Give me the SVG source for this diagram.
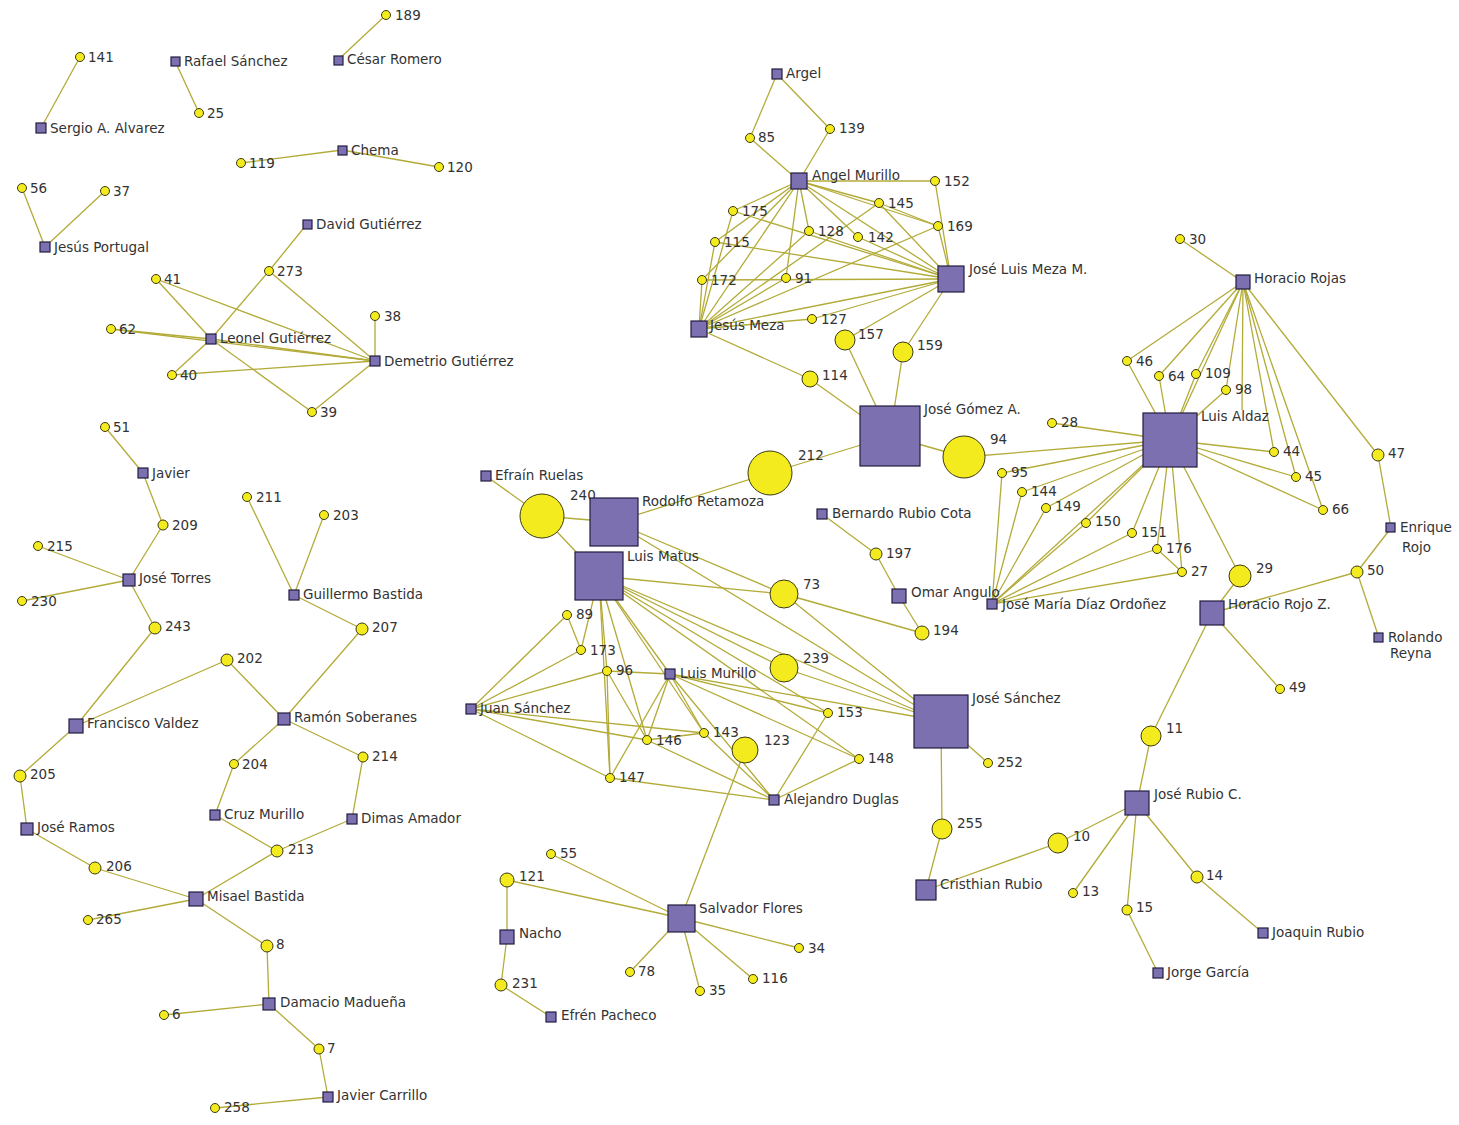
<svg xmlns="http://www.w3.org/2000/svg" width="1459" height="1125" viewBox="0 0 1459 1125">
<style>
.e line{stroke:#b3ab38;stroke-width:1.3;fill:none}
.sq{fill:#7c70b0;stroke:#221c40;stroke-width:1.2}
.ci{fill:#f3eb1e;stroke:#3c3a12;stroke-width:1}
.t{font-family:"DejaVu Sans","Liberation Sans",sans-serif;font-size:13.5px;fill:#333333}
</style>
<rect width="1459" height="1125" fill="#ffffff"/>
<g id="connectors" class="e">
<line x1="386" y1="15" x2="338" y2="60"/>
<line x1="80" y1="57" x2="41" y2="128"/>
<line x1="175" y1="61" x2="199" y2="113"/>
<line x1="241" y1="163" x2="342" y2="150"/>
<line x1="342" y1="150" x2="439" y2="167"/>
<line x1="22" y1="188" x2="45" y2="247"/>
<line x1="105" y1="191" x2="45" y2="247"/>
<line x1="307" y1="224" x2="269" y2="271"/>
<line x1="269" y1="271" x2="211" y2="339"/>
<line x1="269" y1="271" x2="375" y2="361"/>
<line x1="156" y1="279" x2="211" y2="339"/>
<line x1="156" y1="279" x2="375" y2="361"/>
<line x1="111" y1="329" x2="211" y2="339"/>
<line x1="111" y1="329" x2="375" y2="361"/>
<line x1="211" y1="339" x2="375" y2="361"/>
<line x1="375" y1="316" x2="375" y2="361"/>
<line x1="172" y1="375" x2="211" y2="339"/>
<line x1="172" y1="375" x2="375" y2="361"/>
<line x1="312" y1="412" x2="211" y2="339"/>
<line x1="312" y1="412" x2="375" y2="361"/>
<line x1="105" y1="427" x2="143" y2="473"/>
<line x1="143" y1="473" x2="163" y2="525"/>
<line x1="163" y1="525" x2="129" y2="580"/>
<line x1="38" y1="546" x2="129" y2="580"/>
<line x1="22" y1="601" x2="129" y2="580"/>
<line x1="129" y1="580" x2="155" y2="628"/>
<line x1="155" y1="628" x2="76" y2="726"/>
<line x1="76" y1="726" x2="227" y2="660"/>
<line x1="227" y1="660" x2="284" y2="719"/>
<line x1="247" y1="497" x2="294" y2="595"/>
<line x1="324" y1="515" x2="294" y2="595"/>
<line x1="294" y1="595" x2="362" y2="629"/>
<line x1="362" y1="629" x2="284" y2="719"/>
<line x1="284" y1="719" x2="234" y2="764"/>
<line x1="284" y1="719" x2="363" y2="757"/>
<line x1="234" y1="764" x2="215" y2="815"/>
<line x1="363" y1="757" x2="352" y2="819"/>
<line x1="215" y1="815" x2="277" y2="851"/>
<line x1="352" y1="819" x2="277" y2="851"/>
<line x1="277" y1="851" x2="196" y2="899"/>
<line x1="76" y1="726" x2="20" y2="776"/>
<line x1="20" y1="776" x2="27" y2="829"/>
<line x1="27" y1="829" x2="95" y2="868"/>
<line x1="95" y1="868" x2="196" y2="899"/>
<line x1="88" y1="920" x2="196" y2="899"/>
<line x1="196" y1="899" x2="267" y2="946"/>
<line x1="267" y1="946" x2="269" y2="1004"/>
<line x1="164" y1="1015" x2="269" y2="1004"/>
<line x1="269" y1="1004" x2="319" y2="1049"/>
<line x1="319" y1="1049" x2="328" y2="1097"/>
<line x1="215" y1="1108" x2="328" y2="1097"/>
<line x1="777" y1="74" x2="750" y2="138"/>
<line x1="777" y1="74" x2="830" y2="129"/>
<line x1="750" y1="138" x2="799" y2="181"/>
<line x1="830" y1="129" x2="799" y2="181"/>
<line x1="799" y1="181" x2="935" y2="181"/>
<line x1="935" y1="181" x2="951" y2="279"/>
<line x1="799" y1="181" x2="879" y2="203"/>
<line x1="799" y1="181" x2="938" y2="226"/>
<line x1="799" y1="181" x2="809" y2="231"/>
<line x1="799" y1="181" x2="858" y2="237"/>
<line x1="799" y1="181" x2="786" y2="278"/>
<line x1="799" y1="181" x2="733" y2="211"/>
<line x1="799" y1="181" x2="715" y2="242"/>
<line x1="799" y1="181" x2="702" y2="280"/>
<line x1="799" y1="181" x2="699" y2="329"/>
<line x1="799" y1="181" x2="951" y2="279"/>
<line x1="879" y1="203" x2="951" y2="279"/>
<line x1="879" y1="203" x2="938" y2="226"/>
<line x1="879" y1="203" x2="699" y2="329"/>
<line x1="938" y1="226" x2="951" y2="279"/>
<line x1="938" y1="226" x2="699" y2="329"/>
<line x1="809" y1="231" x2="951" y2="279"/>
<line x1="858" y1="237" x2="951" y2="279"/>
<line x1="733" y1="211" x2="951" y2="279"/>
<line x1="733" y1="211" x2="699" y2="329"/>
<line x1="715" y1="242" x2="951" y2="279"/>
<line x1="715" y1="242" x2="699" y2="329"/>
<line x1="702" y1="280" x2="699" y2="329"/>
<line x1="702" y1="280" x2="951" y2="279"/>
<line x1="786" y1="278" x2="699" y2="329"/>
<line x1="809" y1="231" x2="699" y2="329"/>
<line x1="812" y1="319" x2="699" y2="329"/>
<line x1="812" y1="319" x2="951" y2="279"/>
<line x1="699" y1="329" x2="951" y2="279"/>
<line x1="845" y1="340" x2="951" y2="279"/>
<line x1="845" y1="340" x2="890" y2="436"/>
<line x1="903" y1="352" x2="951" y2="279"/>
<line x1="903" y1="352" x2="890" y2="436"/>
<line x1="699" y1="329" x2="810" y2="379"/>
<line x1="810" y1="379" x2="890" y2="436"/>
<line x1="770" y1="473" x2="890" y2="436"/>
<line x1="964" y1="457" x2="890" y2="436"/>
<line x1="770" y1="473" x2="614" y2="522"/>
<line x1="964" y1="457" x2="1170" y2="440"/>
<line x1="486" y1="476" x2="542" y2="516"/>
<line x1="542" y1="516" x2="614" y2="522"/>
<line x1="542" y1="516" x2="599" y2="576"/>
<line x1="614" y1="522" x2="784" y2="594"/>
<line x1="599" y1="576" x2="784" y2="594"/>
<line x1="614" y1="522" x2="941" y2="721"/>
<line x1="599" y1="576" x2="941" y2="721"/>
<line x1="599" y1="576" x2="784" y2="668"/>
<line x1="599" y1="576" x2="828" y2="713"/>
<line x1="599" y1="576" x2="859" y2="759"/>
<line x1="599" y1="576" x2="670" y2="674"/>
<line x1="599" y1="576" x2="704" y2="733"/>
<line x1="599" y1="576" x2="647" y2="740"/>
<line x1="599" y1="576" x2="607" y2="671"/>
<line x1="599" y1="576" x2="581" y2="650"/>
<line x1="599" y1="576" x2="610" y2="778"/>
<line x1="784" y1="594" x2="941" y2="721"/>
<line x1="784" y1="594" x2="922" y2="633"/>
<line x1="784" y1="668" x2="941" y2="721"/>
<line x1="670" y1="674" x2="941" y2="721"/>
<line x1="670" y1="674" x2="828" y2="713"/>
<line x1="670" y1="674" x2="859" y2="759"/>
<line x1="670" y1="674" x2="704" y2="733"/>
<line x1="670" y1="674" x2="647" y2="740"/>
<line x1="670" y1="674" x2="610" y2="778"/>
<line x1="670" y1="674" x2="607" y2="671"/>
<line x1="670" y1="674" x2="774" y2="800"/>
<line x1="471" y1="709" x2="567" y2="615"/>
<line x1="471" y1="709" x2="581" y2="650"/>
<line x1="471" y1="709" x2="607" y2="671"/>
<line x1="471" y1="709" x2="647" y2="740"/>
<line x1="471" y1="709" x2="704" y2="733"/>
<line x1="471" y1="709" x2="610" y2="778"/>
<line x1="567" y1="615" x2="581" y2="650"/>
<line x1="607" y1="671" x2="647" y2="740"/>
<line x1="607" y1="671" x2="610" y2="778"/>
<line x1="610" y1="778" x2="774" y2="800"/>
<line x1="647" y1="740" x2="774" y2="800"/>
<line x1="704" y1="733" x2="774" y2="800"/>
<line x1="828" y1="713" x2="774" y2="800"/>
<line x1="859" y1="759" x2="774" y2="800"/>
<line x1="704" y1="733" x2="647" y2="740"/>
<line x1="745" y1="750" x2="681" y2="918"/>
<line x1="941" y1="721" x2="988" y2="763"/>
<line x1="941" y1="721" x2="942" y2="829"/>
<line x1="942" y1="829" x2="926" y2="890"/>
<line x1="926" y1="890" x2="1058" y2="843"/>
<line x1="1058" y1="843" x2="1137" y2="803"/>
<line x1="551" y1="854" x2="681" y2="918"/>
<line x1="507" y1="880" x2="681" y2="918"/>
<line x1="507" y1="880" x2="507" y2="937"/>
<line x1="507" y1="937" x2="501" y2="985"/>
<line x1="501" y1="985" x2="551" y2="1017"/>
<line x1="681" y1="918" x2="630" y2="972"/>
<line x1="681" y1="918" x2="700" y2="991"/>
<line x1="681" y1="918" x2="753" y2="979"/>
<line x1="681" y1="918" x2="799" y2="948"/>
<line x1="822" y1="514" x2="876" y2="554"/>
<line x1="876" y1="554" x2="899" y2="596"/>
<line x1="899" y1="596" x2="922" y2="633"/>
<line x1="1180" y1="239" x2="1243" y2="282"/>
<line x1="1243" y1="282" x2="1127" y2="361"/>
<line x1="1243" y1="282" x2="1159" y2="376"/>
<line x1="1243" y1="282" x2="1196" y2="374"/>
<line x1="1243" y1="282" x2="1226" y2="390"/>
<line x1="1243" y1="282" x2="1170" y2="440"/>
<line x1="1243" y1="282" x2="1242" y2="410"/>
<line x1="1243" y1="282" x2="1274" y2="452"/>
<line x1="1243" y1="282" x2="1296" y2="477"/>
<line x1="1243" y1="282" x2="1323" y2="510"/>
<line x1="1243" y1="282" x2="1378" y2="455"/>
<line x1="1127" y1="361" x2="1170" y2="440"/>
<line x1="1159" y1="376" x2="1170" y2="440"/>
<line x1="1196" y1="374" x2="1170" y2="440"/>
<line x1="1226" y1="390" x2="1170" y2="440"/>
<line x1="1052" y1="423" x2="1170" y2="440"/>
<line x1="1002" y1="473" x2="1170" y2="440"/>
<line x1="1022" y1="492" x2="1170" y2="440"/>
<line x1="1046" y1="508" x2="1170" y2="440"/>
<line x1="1086" y1="523" x2="1170" y2="440"/>
<line x1="1132" y1="533" x2="1170" y2="440"/>
<line x1="1157" y1="549" x2="1170" y2="440"/>
<line x1="1182" y1="572" x2="1170" y2="440"/>
<line x1="1240" y1="576" x2="1170" y2="440"/>
<line x1="1274" y1="452" x2="1170" y2="440"/>
<line x1="1296" y1="477" x2="1170" y2="440"/>
<line x1="1323" y1="510" x2="1170" y2="440"/>
<line x1="992" y1="604" x2="1170" y2="440"/>
<line x1="992" y1="604" x2="1002" y2="473"/>
<line x1="992" y1="604" x2="1022" y2="492"/>
<line x1="992" y1="604" x2="1046" y2="508"/>
<line x1="992" y1="604" x2="1086" y2="523"/>
<line x1="992" y1="604" x2="1132" y2="533"/>
<line x1="992" y1="604" x2="1157" y2="549"/>
<line x1="992" y1="604" x2="1182" y2="572"/>
<line x1="1157" y1="549" x2="1182" y2="572"/>
<line x1="1240" y1="576" x2="1212" y2="613"/>
<line x1="1212" y1="613" x2="1357" y2="572"/>
<line x1="1212" y1="613" x2="1151" y2="736"/>
<line x1="1212" y1="613" x2="1280" y2="689"/>
<line x1="1357" y1="572" x2="1391" y2="528"/>
<line x1="1357" y1="572" x2="1379" y2="638"/>
<line x1="1378" y1="455" x2="1391" y2="528"/>
<line x1="1151" y1="736" x2="1137" y2="803"/>
<line x1="1137" y1="803" x2="1073" y2="893"/>
<line x1="1137" y1="803" x2="1127" y2="910"/>
<line x1="1137" y1="803" x2="1197" y2="877"/>
<line x1="1197" y1="877" x2="1263" y2="933"/>
<line x1="1127" y1="910" x2="1158" y2="973"/>
</g>
<g id="n189"><circle class="ci" cx="386" cy="15" r="4.5"/><text class="t" x="395" y="20">189</text></g>
<g id="cesar-romero"><rect class="sq" x="334" y="56" width="9" height="9"/><text class="t" x="347" y="64">César Romero</text></g>
<g id="n141"><circle class="ci" cx="80" cy="57" r="4.5"/><text class="t" x="88" y="62">141</text></g>
<g id="sergio"><rect class="sq" x="36" y="123" width="10" height="10"/><text class="t" x="50" y="133">Sergio A. Alvarez</text></g>
<g id="rafael"><rect class="sq" x="171" y="57" width="9" height="9"/><text class="t" x="184" y="66">Rafael Sánchez</text></g>
<g id="n25"><circle class="ci" cx="199" cy="113" r="4.5"/><text class="t" x="207" y="118">25</text></g>
<g id="chema"><rect class="sq" x="338" y="146" width="9" height="9"/><text class="t" x="351" y="155">Chema</text></g>
<g id="n119"><circle class="ci" cx="241" cy="163" r="4.5"/><text class="t" x="249" y="168">119</text></g>
<g id="n120"><circle class="ci" cx="439" cy="167" r="4.5"/><text class="t" x="447" y="172">120</text></g>
<g id="n56"><circle class="ci" cx="22" cy="188" r="4.5"/><text class="t" x="30" y="193">56</text></g>
<g id="n37"><circle class="ci" cx="105" cy="191" r="4.5"/><text class="t" x="113" y="196">37</text></g>
<g id="jesus-portugal"><rect class="sq" x="40" y="242" width="10" height="10"/><text class="t" x="54" y="252">Jesús Portugal</text></g>
<g id="david"><rect class="sq" x="303" y="220" width="9" height="9"/><text class="t" x="316" y="229">David Gutiérrez</text></g>
<g id="n273"><circle class="ci" cx="269" cy="271" r="4.5"/><text class="t" x="277" y="276">273</text></g>
<g id="n41"><circle class="ci" cx="156" cy="279" r="4.5"/><text class="t" x="164" y="284">41</text></g>
<g id="n62"><circle class="ci" cx="111" cy="329" r="4.5"/><text class="t" x="119" y="334">62</text></g>
<g id="leonel"><rect class="sq" x="206" y="334" width="10" height="10"/><text class="t" x="220" y="343">Leonel Gutiérrez</text></g>
<g id="n38"><circle class="ci" cx="375" cy="316" r="4.5"/><text class="t" x="384" y="321">38</text></g>
<g id="demetrio"><rect class="sq" x="370" y="356" width="10" height="10"/><text class="t" x="384" y="366">Demetrio Gutiérrez</text></g>
<g id="n40"><circle class="ci" cx="172" cy="375" r="4.5"/><text class="t" x="180" y="380">40</text></g>
<g id="n39"><circle class="ci" cx="312" cy="412" r="4.5"/><text class="t" x="320" y="417">39</text></g>
<g id="n51"><circle class="ci" cx="105" cy="427" r="4.5"/><text class="t" x="113" y="432">51</text></g>
<g id="javier"><rect class="sq" x="138" y="468" width="10" height="10"/><text class="t" x="152" y="478">Javier</text></g>
<g id="n209"><circle class="ci" cx="163" cy="525" r="5"/><text class="t" x="172" y="530">209</text></g>
<g id="n215"><circle class="ci" cx="38" cy="546" r="4.5"/><text class="t" x="47" y="551">215</text></g>
<g id="jose-torres"><rect class="sq" x="123" y="574" width="12" height="12"/><text class="t" x="139" y="583">José Torres</text></g>
<g id="n230"><circle class="ci" cx="22" cy="601" r="4.5"/><text class="t" x="31" y="606">230</text></g>
<g id="n243"><circle class="ci" cx="155" cy="628" r="6"/><text class="t" x="165" y="631">243</text></g>
<g id="n211"><circle class="ci" cx="247" cy="497" r="4.5"/><text class="t" x="256" y="502">211</text></g>
<g id="n203"><circle class="ci" cx="324" cy="515" r="4.5"/><text class="t" x="333" y="520">203</text></g>
<g id="guillermo"><rect class="sq" x="289" y="590" width="10" height="10"/><text class="t" x="303" y="599">Guillermo Bastida</text></g>
<g id="n207"><circle class="ci" cx="362" cy="629" r="6"/><text class="t" x="372" y="632">207</text></g>
<g id="n202"><circle class="ci" cx="227" cy="660" r="6"/><text class="t" x="237" y="663">202</text></g>
<g id="francisco"><rect class="sq" x="69" y="719" width="14" height="14"/><text class="t" x="87" y="728">Francisco Valdez</text></g>
<g id="ramon"><rect class="sq" x="278" y="713" width="12" height="12"/><text class="t" x="294" y="722">Ramón Soberanes</text></g>
<g id="n204"><circle class="ci" cx="234" cy="764" r="4.5"/><text class="t" x="242" y="769">204</text></g>
<g id="n214"><circle class="ci" cx="363" cy="757" r="5"/><text class="t" x="372" y="761">214</text></g>
<g id="n205"><circle class="ci" cx="20" cy="776" r="6"/><text class="t" x="30" y="779">205</text></g>
<g id="cruz"><rect class="sq" x="210" y="810" width="10" height="10"/><text class="t" x="224" y="819">Cruz Murillo</text></g>
<g id="dimas"><rect class="sq" x="347" y="814" width="10" height="10"/><text class="t" x="361" y="823">Dimas Amador</text></g>
<g id="jose-ramos"><rect class="sq" x="21" y="823" width="12" height="12"/><text class="t" x="37" y="832">José Ramos</text></g>
<g id="n213"><circle class="ci" cx="277" cy="851" r="6"/><text class="t" x="288" y="854">213</text></g>
<g id="n206"><circle class="ci" cx="95" cy="868" r="6"/><text class="t" x="106" y="871">206</text></g>
<g id="misael"><rect class="sq" x="189" y="892" width="14" height="14"/><text class="t" x="207" y="901">Misael Bastida</text></g>
<g id="n265"><circle class="ci" cx="88" cy="920" r="4.5"/><text class="t" x="96" y="924">265</text></g>
<g id="n8"><circle class="ci" cx="267" cy="946" r="6"/><text class="t" x="276" y="949">8</text></g>
<g id="damacio"><rect class="sq" x="263" y="998" width="12" height="12"/><text class="t" x="280" y="1007">Damacio Madueña</text></g>
<g id="n6"><circle class="ci" cx="164" cy="1015" r="4.5"/><text class="t" x="172" y="1019">6</text></g>
<g id="n7"><circle class="ci" cx="319" cy="1049" r="5"/><text class="t" x="327" y="1053">7</text></g>
<g id="javier-carrillo"><rect class="sq" x="323" y="1092" width="10" height="10"/><text class="t" x="337" y="1100">Javier Carrillo</text></g>
<g id="n258"><circle class="ci" cx="215" cy="1108" r="4.5"/><text class="t" x="224" y="1112">258</text></g>
<g id="argel"><rect class="sq" x="772" y="69" width="10" height="10"/><text class="t" x="786" y="78">Argel</text></g>
<g id="n85"><circle class="ci" cx="750" cy="138" r="4.5"/><text class="t" x="758" y="142">85</text></g>
<g id="n139"><circle class="ci" cx="830" cy="129" r="4.5"/><text class="t" x="839" y="133">139</text></g>
<g id="angel-murillo"><rect class="sq" x="791" y="173" width="16" height="16"/><text class="t" x="812" y="180">Angel Murillo</text></g>
<g id="n152"><circle class="ci" cx="935" cy="181" r="4.5"/><text class="t" x="944" y="186">152</text></g>
<g id="n175"><circle class="ci" cx="733" cy="211" r="4.5"/><text class="t" x="742" y="216">175</text></g>
<g id="n145"><circle class="ci" cx="879" cy="203" r="4.5"/><text class="t" x="888" y="208">145</text></g>
<g id="n128"><circle class="ci" cx="809" cy="231" r="4.5"/><text class="t" x="818" y="236">128</text></g>
<g id="n142"><circle class="ci" cx="858" cy="237" r="4.5"/><text class="t" x="868" y="242">142</text></g>
<g id="n169"><circle class="ci" cx="938" cy="226" r="4.5"/><text class="t" x="947" y="231">169</text></g>
<g id="n115"><circle class="ci" cx="715" cy="242" r="4.5"/><text class="t" x="724" y="247">115</text></g>
<g id="jose-luis-meza"><rect class="sq" x="938" y="266" width="26" height="26"/><text class="t" x="969" y="274">José Luis Meza M.</text></g>
<g id="n172"><circle class="ci" cx="702" cy="280" r="4.5"/><text class="t" x="711" y="285">172</text></g>
<g id="n91"><circle class="ci" cx="786" cy="278" r="4.5"/><text class="t" x="795" y="283">91</text></g>
<g id="jesus-meza"><rect class="sq" x="691" y="321" width="16" height="16"/><text class="t" x="710" y="330">Jesús Meza</text></g>
<g id="n127"><circle class="ci" cx="812" cy="319" r="4.5"/><text class="t" x="821" y="324">127</text></g>
<g id="n157"><circle class="ci" cx="845" cy="340" r="10"/><text class="t" x="858" y="339">157</text></g>
<g id="n159"><circle class="ci" cx="903" cy="352" r="10"/><text class="t" x="917" y="350">159</text></g>
<g id="n114"><circle class="ci" cx="810" cy="379" r="8"/><text class="t" x="822" y="380">114</text></g>
<g id="jose-gomez"><rect class="sq" x="860" y="406" width="60" height="60"/><text class="t" x="924" y="414">José Gómez A.</text></g>
<g id="n94"><circle class="ci" cx="964" cy="457" r="21"/><text class="t" x="990" y="444">94</text></g>
<g id="n212"><circle class="ci" cx="770" cy="473" r="22"/><text class="t" x="798" y="460">212</text></g>
<g id="efrain"><rect class="sq" x="481" y="471" width="10" height="10"/><text class="t" x="495" y="480">Efraín Ruelas</text></g>
<g id="n240"><circle class="ci" cx="542" cy="516" r="22"/><text class="t" x="570" y="500">240</text></g>
<g id="rodolfo"><rect class="sq" x="590" y="498" width="48" height="48"/><text class="t" x="642" y="506">Rodolfo Retamoza</text></g>
<g id="luis-matus"><rect class="sq" x="575" y="552" width="48" height="48"/><text class="t" x="627" y="561">Luis Matus</text></g>
<g id="n73"><circle class="ci" cx="784" cy="594" r="14"/><text class="t" x="803" y="589">73</text></g>
<g id="n89"><circle class="ci" cx="567" cy="615" r="4.5"/><text class="t" x="576" y="619">89</text></g>
<g id="n173"><circle class="ci" cx="581" cy="650" r="4.5"/><text class="t" x="590" y="655">173</text></g>
<g id="n96"><circle class="ci" cx="607" cy="671" r="4.5"/><text class="t" x="616" y="675">96</text></g>
<g id="luis-murillo"><rect class="sq" x="665" y="669" width="10" height="10"/><text class="t" x="680" y="678">Luis Murillo</text></g>
<g id="n239"><circle class="ci" cx="784" cy="668" r="14"/><text class="t" x="803" y="663">239</text></g>
<g id="juan-sanchez"><rect class="sq" x="466" y="704" width="10" height="10"/><text class="t" x="480" y="713">Juan Sánchez</text></g>
<g id="n153"><circle class="ci" cx="828" cy="713" r="4.5"/><text class="t" x="837" y="717">153</text></g>
<g id="n146"><circle class="ci" cx="647" cy="740" r="4.5"/><text class="t" x="656" y="745">146</text></g>
<g id="n143"><circle class="ci" cx="704" cy="733" r="4.5"/><text class="t" x="713" y="737">143</text></g>
<g id="n123"><circle class="ci" cx="745" cy="750" r="13"/><text class="t" x="764" y="745">123</text></g>
<g id="n148"><circle class="ci" cx="859" cy="759" r="4.5"/><text class="t" x="868" y="763">148</text></g>
<g id="n147"><circle class="ci" cx="610" cy="778" r="4.5"/><text class="t" x="619" y="782">147</text></g>
<g id="alejandro"><rect class="sq" x="769" y="795" width="10" height="10"/><text class="t" x="784" y="804">Alejandro Duglas</text></g>
<g id="jose-sanchez"><rect class="sq" x="914" y="695" width="54" height="53"/><text class="t" x="972" y="703">José Sánchez</text></g>
<g id="n252"><circle class="ci" cx="988" cy="763" r="4.5"/><text class="t" x="997" y="767">252</text></g>
<g id="n255"><circle class="ci" cx="942" cy="829" r="10"/><text class="t" x="957" y="828">255</text></g>
<g id="cristhian"><rect class="sq" x="916" y="880" width="20" height="20"/><text class="t" x="940" y="889">Cristhian Rubio</text></g>
<g id="n55"><circle class="ci" cx="551" cy="854" r="4.5"/><text class="t" x="560" y="858">55</text></g>
<g id="n121"><circle class="ci" cx="507" cy="880" r="7"/><text class="t" x="519" y="881">121</text></g>
<g id="nacho"><rect class="sq" x="500" y="930" width="14" height="14"/><text class="t" x="519" y="938">Nacho</text></g>
<g id="n231"><circle class="ci" cx="501" cy="985" r="6"/><text class="t" x="512" y="988">231</text></g>
<g id="efren"><rect class="sq" x="546" y="1012" width="10" height="10"/><text class="t" x="561" y="1020">Efrén Pacheco</text></g>
<g id="salvador"><rect class="sq" x="668" y="905" width="27" height="27"/><text class="t" x="699" y="913">Salvador Flores</text></g>
<g id="n78"><circle class="ci" cx="630" cy="972" r="4.5"/><text class="t" x="638" y="976">78</text></g>
<g id="n35"><circle class="ci" cx="700" cy="991" r="4.5"/><text class="t" x="709" y="995">35</text></g>
<g id="n116"><circle class="ci" cx="753" cy="979" r="4.5"/><text class="t" x="762" y="983">116</text></g>
<g id="n34"><circle class="ci" cx="799" cy="948" r="4.5"/><text class="t" x="808" y="953">34</text></g>
<g id="bernardo"><rect class="sq" x="817" y="509" width="10" height="10"/><text class="t" x="832" y="518">Bernardo Rubio Cota</text></g>
<g id="n197"><circle class="ci" cx="876" cy="554" r="6"/><text class="t" x="886" y="558">197</text></g>
<g id="omar"><rect class="sq" x="892" y="589" width="14" height="14"/><text class="t" x="911" y="597">Omar Angulo</text></g>
<g id="n194"><circle class="ci" cx="922" cy="633" r="7"/><text class="t" x="933" y="635">194</text></g>
<g id="jose-maria"><rect class="sq" x="987" y="599" width="10" height="10"/><text class="t" x="1002" y="609">José María Díaz Ordoñez</text></g>
<g id="n30"><circle class="ci" cx="1180" cy="239" r="4.5"/><text class="t" x="1189" y="244">30</text></g>
<g id="horacio-rojas"><rect class="sq" x="1236" y="275" width="14" height="14"/><text class="t" x="1254" y="283">Horacio Rojas</text></g>
<g id="n46"><circle class="ci" cx="1127" cy="361" r="4.5"/><text class="t" x="1136" y="366">46</text></g>
<g id="n64"><circle class="ci" cx="1159" cy="376" r="4.5"/><text class="t" x="1168" y="381">64</text></g>
<g id="n109"><circle class="ci" cx="1196" cy="374" r="4.5"/><text class="t" x="1205" y="378">109</text></g>
<g id="n98"><circle class="ci" cx="1226" cy="390" r="4.5"/><text class="t" x="1235" y="394">98</text></g>
<g id="luis-aldaz"><rect class="sq" x="1143" y="413" width="54" height="54"/><text class="t" x="1201" y="421">Luis Aldaz</text></g>
<g id="n28"><circle class="ci" cx="1052" cy="423" r="4.5"/><text class="t" x="1061" y="427">28</text></g>
<g id="n44"><circle class="ci" cx="1274" cy="452" r="4.5"/><text class="t" x="1283" y="456">44</text></g>
<g id="n45"><circle class="ci" cx="1296" cy="477" r="4.5"/><text class="t" x="1305" y="481">45</text></g>
<g id="n66"><circle class="ci" cx="1323" cy="510" r="4.5"/><text class="t" x="1332" y="514">66</text></g>
<g id="n47"><circle class="ci" cx="1378" cy="455" r="6"/><text class="t" x="1388" y="458">47</text></g>
<g id="enrique"><rect class="sq" x="1386" y="523" width="9" height="9"/><text class="t" x="1400" y="532">Enrique</text><text class="t" x="1402" y="552">Rojo</text></g>
<g id="n50"><circle class="ci" cx="1357" cy="572" r="6"/><text class="t" x="1367" y="575">50</text></g>
<g id="rolando"><rect class="sq" x="1374" y="633" width="9" height="9"/><text class="t" x="1388" y="642">Rolando</text><text class="t" x="1390" y="658">Reyna</text></g>
<g id="n95"><circle class="ci" cx="1002" cy="473" r="4.5"/><text class="t" x="1011" y="477">95</text></g>
<g id="n144"><circle class="ci" cx="1022" cy="492" r="4.5"/><text class="t" x="1031" y="496">144</text></g>
<g id="n149"><circle class="ci" cx="1046" cy="508" r="4.5"/><text class="t" x="1055" y="511">149</text></g>
<g id="n150"><circle class="ci" cx="1086" cy="523" r="4.5"/><text class="t" x="1095" y="526">150</text></g>
<g id="n151"><circle class="ci" cx="1132" cy="533" r="4.5"/><text class="t" x="1141" y="537">151</text></g>
<g id="n176"><circle class="ci" cx="1157" cy="549" r="4.5"/><text class="t" x="1166" y="553">176</text></g>
<g id="n27"><circle class="ci" cx="1182" cy="572" r="4.5"/><text class="t" x="1191" y="576">27</text></g>
<g id="n29"><circle class="ci" cx="1240" cy="576" r="11"/><text class="t" x="1256" y="573">29</text></g>
<g id="horacio-rojo"><rect class="sq" x="1200" y="601" width="24" height="24"/><text class="t" x="1228" y="609">Horacio Rojo Z.</text></g>
<g id="n49"><circle class="ci" cx="1280" cy="689" r="4.5"/><text class="t" x="1289" y="692">49</text></g>
<g id="n11"><circle class="ci" cx="1151" cy="736" r="10"/><text class="t" x="1166" y="733">11</text></g>
<g id="jose-rubio"><rect class="sq" x="1125" y="791" width="24" height="24"/><text class="t" x="1154" y="799">José Rubio C.</text></g>
<g id="n10"><circle class="ci" cx="1058" cy="843" r="10"/><text class="t" x="1073" y="841">10</text></g>
<g id="n13"><circle class="ci" cx="1073" cy="893" r="4.5"/><text class="t" x="1082" y="896">13</text></g>
<g id="n14"><circle class="ci" cx="1197" cy="877" r="6"/><text class="t" x="1206" y="880">14</text></g>
<g id="n15"><circle class="ci" cx="1127" cy="910" r="5"/><text class="t" x="1136" y="912">15</text></g>
<g id="joaquin"><rect class="sq" x="1258" y="928" width="10" height="10"/><text class="t" x="1272" y="937">Joaquin Rubio</text></g>
<g id="jorge"><rect class="sq" x="1153" y="968" width="10" height="10"/><text class="t" x="1167" y="977">Jorge García</text></g>
</svg>
